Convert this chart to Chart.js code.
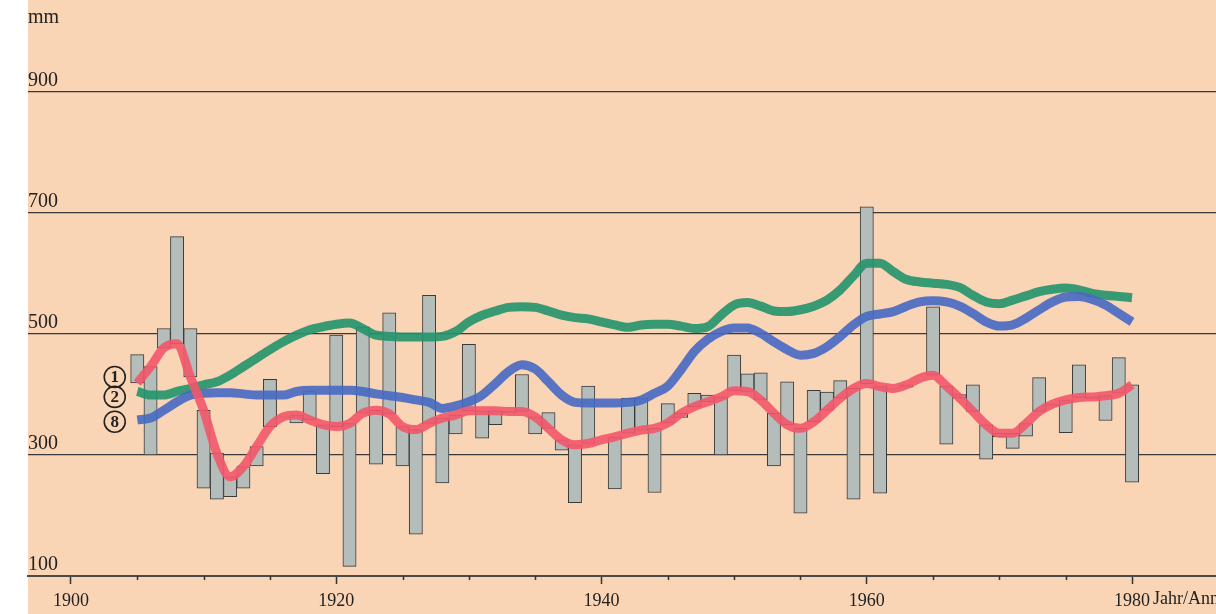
<!DOCTYPE html>
<html><head><meta charset="utf-8">
<script src="https://cdn.jsdelivr.net/npm/chart.js@4.4.1/dist/chart.umd.min.js"></script>
<style>html,body{margin:0;padding:0;background:#fff;}canvas{display:block;}</style>
</head><body>
<canvas id="c" width="1216" height="614"></canvas>
<script>
const years = [1905,1906,1907,1908,1909,1910,1911,1912,1913,1914,
  1915,1916,1917,1918,1919,1920,1921,1922,1923,1924,
  1925,1926,1927,1928,1929,1930,1931,1932,1933,1934,
  1935,1936,1937,1938,1939,1940,1941,1942,1943,1944,
  1945,1946,1947,1948,1949,1950,1951,1952,1953,1954,
  1955,1956,1957,1958,1959,1960,1961,1962,1963,1964,
  1965,1966,1967,1968,1969,1970,1971,1972,1973,1974,
  1975,1976,1977,1978,1979,1980];
const annualValues = [466,300,509,661,509,245,227,231,245,282,
  425,362,353,406,269,498,116,512,285,535,
  282,169,564,254,335,483,328,350,370,433,
  335,370,308,221,414,325,244,394,394,238,
  385,362,402,399,300,465,434,436,282,421,
  204,407,404,423,227,710,237,409,412,427,
  545,318,400,416,293,330,311,331,428,381,
  337,449,393,357,461,255];
const curve1 = [419,446,477,484,429,374,303,264,281,314,
  347,363,366,358,350,347,352,369,374,368,
  347,342,352,361,366,373,373,373,372,372,
  363,344,325,317,319,325,330,336,341,344,
  353,369,380,388,396,406,405,391,369,350,
  344,355,374,394,410,418,413,410,416,427,
  432,414,394,372,350,336,336,352,372,384,
  391,395,396,398,402,416];
const curve2 = [405,399,399,405,410,416,421,432,446,460,
  474,487,498,507,512,516,518,509,498,496,
  495,495,495,496,504,520,531,538,544,545,
  544,538,531,527,525,520,515,511,515,516,
  516,513,509,512,531,548,552,546,538,537,
  540,546,556,573,596,617,617,603,590,586,
  584,582,577,564,553,550,556,563,570,574,
  576,573,567,564,562,560];
const curve8 = [358,361,374,388,399,402,403,403,401,399,
  399,399,405,407,407,407,407,405,401,398,
  395,391,387,377,381,388,399,418,438,449,
  442,421,399,387,386,386,386,387,391,402,
  414,441,471,491,504,510,510,501,487,474,
  465,468,479,496,515,529,533,537,546,553,
  555,553,546,534,520,513,515,526,540,553,
  561,562,557,548,534,520];
const yTickValues = [100,300,500,700,900];
const xTickYears = [1900,1905,1910,1915,1920,1925,1930,1935,1940,1945,1950,1955,1960,1965,1970,1975,1980];
const xLabelYears = [1900,1920,1940,1960,1980];
const seriesMarks = ['1','2','8'];
const yUnit = 'mm';
const xUnit = 'Jahr/Année';

const FONT = '"Liberation Serif", "Times New Roman", serif';

const bgPlugin = {
  id: 'bg',
  beforeDraw(chart) {
    const {ctx, chartArea, width, height} = chart;
    ctx.save();
    ctx.fillStyle = '#ffffff';
    ctx.fillRect(0, 0, width, height);
    ctx.fillStyle = '#f9d5b6';
    ctx.fillRect(chartArea.left, 0, width - chartArea.left, height);
    ctx.restore();
  }
};

const decoPlugin = {
  id: 'deco',
  afterDraw(chart) {
    const {ctx} = chart;
    const xs = chart.scales.x, ys = chart.scales.y;
    ctx.save();
    // minor ticks
    ctx.strokeStyle = '#333';
    ctx.lineWidth = 1.5;
    xTickYears.forEach(yr => {
      if (xLabelYears.includes(yr)) return;
      const px = Math.round(xs.getPixelForValue(yr)) + 0.5;
      ctx.beginPath();
      ctx.moveTo(px, xs.top);
      ctx.lineTo(px, xs.top + 4);
      ctx.stroke();
    });
    // unit labels
    ctx.fillStyle = '#222';
    ctx.font = '20px ' + FONT;
    ctx.textAlign = 'left';
    ctx.textBaseline = 'alphabetic';
    ctx.fillText(yUnit, chart.chartArea.left, ys.getPixelForValue(1014));
    ctx.font = '18px ' + FONT;
    ctx.textBaseline = 'top';
    ctx.fillText(xUnit, xs.getPixelForValue(1980) + 21, xs.top + 14);
    // circled series markers
    const markYs = [429, 396, 355];
    const cx = xs.getPixelForValue(1903.3);
    ctx.lineWidth = 1.6;
    ctx.strokeStyle = '#222';
    ctx.font = 'bold 17px ' + FONT;
    ctx.textAlign = 'center';
    ctx.textBaseline = 'middle';
    seriesMarks.forEach((m, i) => {
      const cy = ys.getPixelForValue(markYs[i]);
      ctx.beginPath();
      ctx.arc(cx, cy, 10.5, 0, Math.PI * 2);
      ctx.stroke();
      ctx.fillText(m, cx, cy + 1);
    });
    ctx.restore();
  }
};

const toPts = arr => years.map((yr, i) => ({x: yr, y: arr[i]}));

new Chart(document.getElementById('c'), {
  type: 'bar',
  data: {
    datasets: [
      {
        type: 'line', label: '1', data: toPts(curve1),
        borderColor: 'rgba(242,86,106,0.9)', borderWidth: 9, pointRadius: 0,
        cubicInterpolationMode: 'monotone', order: 1, borderCapStyle: 'butt'
      },
      {
        type: 'line', label: '8', data: toPts(curve8),
        borderColor: 'rgba(70,104,194,0.9)', borderWidth: 9, pointRadius: 0,
        cubicInterpolationMode: 'monotone', order: 2, borderCapStyle: 'butt'
      },
      {
        type: 'line', label: '2', data: toPts(curve2),
        borderColor: 'rgba(34,148,108,0.9)', borderWidth: 9, pointRadius: 0,
        cubicInterpolationMode: 'monotone', order: 3, borderCapStyle: 'butt'
      },
      {
        type: 'bar', label: 'Jahr', data: years.map((yr, i) => ({x: yr, y: [curve1[i], annualValues[i]]})),
        backgroundColor: '#b5bdbb', borderColor: '#3a3a3a', borderWidth: 1,
        borderSkipped: false, barPercentage: 1, categoryPercentage: 1, order: 10
      }
    ]
  },
  options: {
    responsive: false,
    devicePixelRatio: 1,
    animation: false,
    layout: {padding: 0},
    plugins: {legend: {display: false}, tooltip: {enabled: false}},
    scales: {
      x: {
        type: 'linear', offset: false, min: 1896.76, max: 1986.33,
        afterBuildTicks: s => { s.ticks = xTickYears.map(v => ({value: v})); },
        afterFit: s => { s.height = 38; s.paddingLeft = 0; s.paddingRight = 0; },
        grid: {
          offset: false, drawOnChartArea: false, drawTicks: true, tickLength: 8, tickWidth: 1.5,
          tickColor: c => xLabelYears.includes(c.tick && c.tick.value) ? '#333' : 'rgba(0,0,0,0)'
        },
        border: {display: true, color: '#4a4a4a', width: 2},
        ticks: {
          autoSkip: false, maxRotation: 0, padding: 6, color: '#222',
          font: {family: FONT, size: 18},
          callback: v => xLabelYears.includes(v) ? String(v) : ''
        }
      },
      y: {
        type: 'linear', min: 100, max: 1052,
        afterBuildTicks: s => { s.ticks = yTickValues.map(v => ({value: v})); },
        afterFit: s => { s.width = 28; s.paddingTop = 0; s.paddingBottom = 0; },
        grid: {color: '#3a3a3a', lineWidth: 1.3, drawTicks: false},
        border: {display: false},
        ticks: {
          mirror: true, padding: 0, labelOffset: -11, color: '#222',
          font: {family: FONT, size: 20},
          callback: v => String(v)
        }
      }
    }
  },
  plugins: [bgPlugin, decoPlugin]
});
</script>
</body></html>
